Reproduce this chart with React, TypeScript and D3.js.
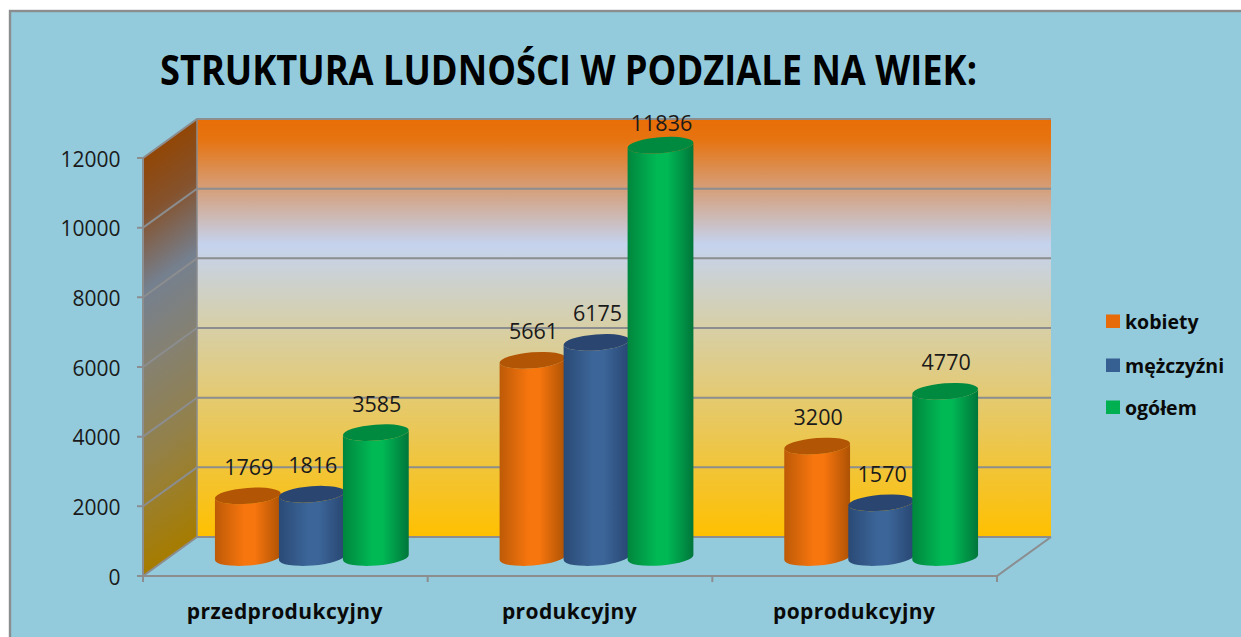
import React from "react";
import * as d3 from "d3";

const categories = ["przedprodukcyjny", "produkcyjny", "poprodukcyjny"];
const seriesNames = ["kobiety", "mężczyźni", "ogółem"];
const kobiety = [1769, 5661, 3200];
const mezczyzni = [1816, 6175, 1570];
const ogolem = [3585, 11836, 4770];
const seriesValues = [kobiety, mezczyzni, ogolem];
const yTicks = [0, 2000, 4000, 6000, 8000, 10000, 12000];
const title = "STRUKTURA LUDNOŚCI W PODZIALE NA WIEK:";

const W = 1241, H = 637;
const front = { l: 143, r: 997, b: 576, t: 158 };
const dx = 54, dy = -39;
const BG = "#93cbdd";
const LINE = "#8b8d8f";
const FONT = "'Open Sans', sans-serif";

const palettes = [
  { swatch: "#e76c09", edge1: "#bd5a07", mid: "#f8760e", edge2: "#ad5204", top: "#b25505" },
  { swatch: "#376092", edge1: "#2a4a76", mid: "#3c6699", edge2: "#284672", top: "#2a4670" },
  { swatch: "#00b050", edge1: "#00863d", mid: "#00b955", edge2: "#00763a", top: "#008a40" },
];
const legendY = [321, 365, 407];

const y = d3.scaleLinear().domain([0, 12000]).range([front.b, front.t]);
const xCat = d3.scaleBand<string>().domain(categories).range([front.l, front.r]);
const xSeries = d3.scaleBand<string>().domain(seriesNames).range([-96.5, 95.5]);

const tilt = -4.5;
const ry = 8;
const baseShift = { x: dx / 2, y: dy / 2 + 1 };

function cylinder(cx: number, top: number, bottom: number, rx: number) {
  const t = (tilt * Math.PI) / 180;
  const ox = rx * Math.cos(t), oy = rx * Math.sin(t);
  const p = d3.path();
  p.moveTo(cx - ox, top - oy);
  p.lineTo(cx - ox, bottom - oy);
  const body = p.toString();
  return `${body} A ${rx} ${ry} ${tilt} 0 0 ${cx + ox} ${bottom + oy} L ${cx + ox} ${top + oy} A ${rx} ${ry} ${tilt} 0 1 ${cx - ox} ${top - oy} Z`;
}

export default function App() {
  const sideGradEnd = { x: 170 + 198, y: 138 + 275 };
  return (
    <svg width={W} height={H} style={{ position: "absolute", left: 0, top: 0, background: "#fff" }} fontFamily={FONT}>
      <defs>
        <linearGradient id="backWall" x1="0" y1="0" x2="0" y2="1">
          <stop offset="0" stopColor="#e86d07" />
          <stop offset="0.05" stopColor="#e67411" />
          <stop offset="0.165" stopColor="#d59e78" />
          <stop offset="0.3" stopColor="#c5d3ee" />
          <stop offset="0.5" stopColor="#d7cfa6" />
          <stop offset="0.72" stopColor="#e8c85f" />
          <stop offset="1" stopColor="#ffc000" />
        </linearGradient>
        <linearGradient id="sideWall" gradientUnits="userSpaceOnUse" x1="170" y1="138" x2={sideGradEnd.x} y2={sideGradEnd.y}>
          <stop offset="0" stopColor="#924605" />
          <stop offset="0.14" stopColor="#85522c" />
          <stop offset="0.32" stopColor="#75808f" />
          <stop offset="0.5" stopColor="#858172" />
          <stop offset="0.72" stopColor="#93814a" />
          <stop offset="1" stopColor="#a67c00" />
        </linearGradient>
        {palettes.map((c, i) => (
          <linearGradient key={i} id={`bar${i}`} x1="0" y1="0" x2="1" y2="0">
            <stop offset="0" stopColor={c.edge1} />
            <stop offset="0.45" stopColor={c.mid} />
            <stop offset="0.6" stopColor={c.mid} />
            <stop offset="1" stopColor={c.edge2} />
          </linearGradient>
        ))}
      </defs>

      <rect x={10} y={11} width={W} height={H} fill={BG} stroke={LINE} strokeWidth={2.4} />

      <text x={568.5} y={85} textAnchor="middle" fontWeight={700} fontSize={41} fill="#000"
        textLength={817} lengthAdjust="spacingAndGlyphs">{title}</text>

      {/* walls */}
      <rect x={front.l + dx} y={front.t + dy} width={front.r - front.l} height={front.b - front.t} fill="url(#backWall)" />
      <path d={`M${front.l},${front.b} L${front.l},${front.t} L${front.l + dx},${front.t + dy} L${front.l + dx},${front.b + dy} Z`} fill="url(#sideWall)" />

      {/* gridlines */}
      {yTicks.map((t) => (
        <path key={t} d={`M${front.l - 6},${y(t)} L${front.l},${y(t)} L${front.l + dx},${y(t) + dy} L${front.r + dx},${y(t) + dy}`}
          fill="none" stroke={LINE} strokeWidth={2} />
      ))}
      <path d={`M${front.l},${y(12000)} L${front.l},${front.b + 4}`} stroke={LINE} strokeWidth={2} fill="none" />
      <path d={`M${front.l + dx},${y(12000) + dy} L${front.l + dx},${front.b + dy}`} stroke={LINE} strokeWidth={1.5} fill="none" />
      <path d={`M${front.l},${front.b} L${front.r},${front.b} L${front.r + dx},${front.b + dy}`} stroke={LINE} strokeWidth={2} fill="none" />
      {[...categories.map((c) => xCat(c)!), front.r].map((x) => (
        <line key={x} x1={x} x2={x} y1={front.b} y2={front.b + 6} stroke={LINE} strokeWidth={2} />
      ))}

      {/* y tick labels */}
      {yTicks.map((t) => (
        <text key={t} x={120.5} y={y(t) + 8.5} textAnchor="end" fontSize={21} fill="#1a1a1a">{t}</text>
      ))}

      {/* cylinders */}
      {categories.map((cat, ci) => {
        const center = xCat(cat)! + xCat.bandwidth() / 2 + baseShift.x;
        return (
          <g key={cat}>
            {seriesNames.map((s, si) => {
              const v = seriesValues[si][ci];
              const cx = center + xSeries(s)! + xSeries.bandwidth() / 2;
              const bottom = y(0) + baseShift.y;
              const top = y(v) + baseShift.y;
              const rx = xSeries.bandwidth() / 2 + 1;
              return (
                <g key={s}>
                  <path d={cylinder(cx, top, bottom, rx)} fill={`url(#bar${si})`} />
                  <ellipse cx={cx} cy={top} rx={rx} ry={ry} fill={palettes[si].top} transform={`rotate(${tilt} ${cx} ${top})`} />
                </g>
              );
            })}
          </g>
        );
      })}

      {/* data labels */}
      {categories.map((cat, ci) => {
        const center = xCat(cat)! + xCat.bandwidth() / 2 + baseShift.x;
        return seriesNames.map((s, si) => {
          const v = seriesValues[si][ci];
          const cx = center + xSeries(s)! + xSeries.bandwidth() / 2;
          const ly = Math.max(y(v) + baseShift.y - 21, 131);
          return (
            <text key={s + cat} x={cx + 1} y={ly} textAnchor="middle" fontSize={21.5} fill="#1a1a1a">{v}</text>
          );
        });
      })}

      {/* category labels */}
      {categories.map((cat) => (
        <text key={cat} x={xCat(cat)! + xCat.bandwidth() / 2 - 0.5} y={619} textAnchor="middle" fontWeight={700} fontSize={21}
          letterSpacing={0.4} fill="#0a0a0a">{cat}</text>
      ))}

      {/* legend */}
      {seriesNames.map((s, i) => (
        <g key={s}>
          <rect x={1106} y={legendY[i] - 6.5} width={14} height={13.5} fill={palettes[i].swatch} />
          <text x={1125} y={legendY[i] + 7.5} fontWeight={700} fontSize={19.5} fill="#0a0a0a">{s}</text>
        </g>
      ))}
    </svg>
  );
}
